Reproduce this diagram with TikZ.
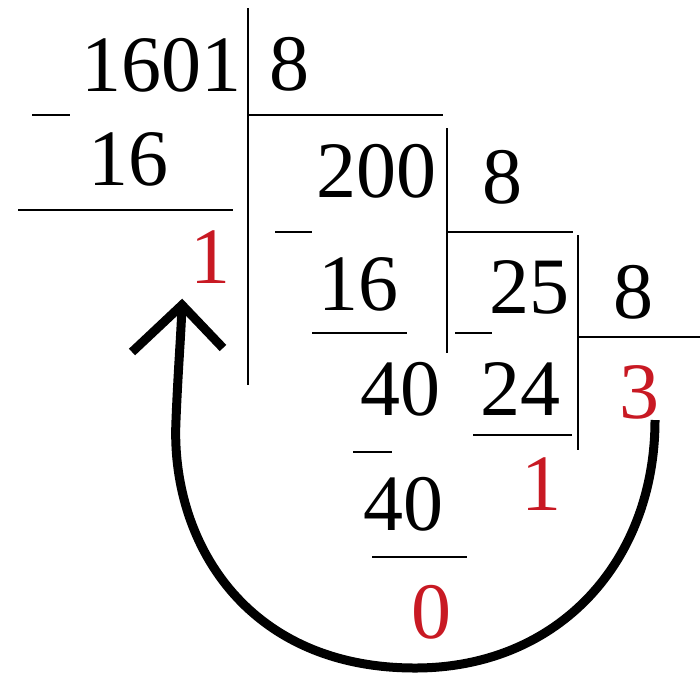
\documentclass[tikz,border=0pt]{standalone}
\usepackage{fontspec}
\setmainfont{Liberation Serif}
\definecolor{remred}{RGB}{200,25,35}
\tikzset{
  num/.style={inner sep=0pt, anchor=base, font=\fontsize{80}{96}\selectfont},
  rem/.style={num, text=remred},
  rule/.style={line width=2.6pt, line cap=butt},
  bigarrow/.style={line width=9pt}
}
\begin{document}
\begin{tikzpicture}[x=1pt,y=-1pt]
\useasboundingbox (0,0) rectangle (700,675);
% numbers
\node[num] (n1601) at (161,91) {1601};
\node[num] (d1) at (289,90) {8};
\node[num] (s16a) at (128,185) {16};
\node[rem] (r1) at (210,283) {1};
\node[num] (n200) at (376,197) {200};
\node[num] (d2) at (502,203) {8};
\node[num] (s16b) at (358,310) {16};
\node[num] (n25) at (529,313) {25};
\node[num] (d3) at (633,318) {8};
\node[num] (n40a) at (400,415) {40};
\node[num] (s24) at (520,415) {24};
\node[rem] (r3) at (639,418) {3};
\node[rem] (r1b) at (541,510) {1};
\node[num] (s40b) at (403,530) {40};
\node[rem] (r0) at (431,638) {0};
% rules
\draw[rule] (248,8) -- (248,385);
\draw[rule] (248,115) -- (443,115);
\draw[rule] (447,128) -- (447,353);
\draw[rule] (447,232) -- (573,232);
\draw[rule] (578,235) -- (578,450);
\draw[rule] (578,337) -- (700,337);
\draw[rule] (18,210) -- (233,210);
\draw[rule] (312,333) -- (407,333);
\draw[rule] (473,435) -- (572,435);
\draw[rule] (372,557) -- (467,557);
% minus signs
\draw[rule] (32,115) -- (70,115);
\draw[rule] (275,232) -- (312,232);
\draw[rule] (455,333) -- (492,333);
\draw[rule] (353,452) -- (392,452);
% arrow
\coordinate (astart) at (655,420);
\coordinate (abot) at (415,668);
\coordinate (atip) at (182,305);
\coordinate (wl) at (132,352);
\coordinate (wr) at (223,348);
\draw[bigarrow] (astart) .. controls (655,560) and (560,668) .. (abot)
  .. controls (245,668) and (170,540) .. (176,420)
  .. controls (178,370) and (181,335) .. (atip);
\draw[bigarrow, line join=miter] (wl) -- (atip) -- (wr);
\end{tikzpicture}
\end{document}
